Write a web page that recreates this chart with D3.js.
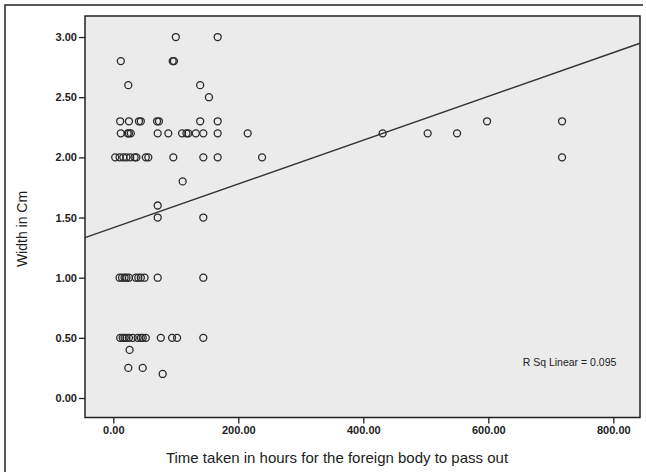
<!DOCTYPE html>
<html>
<head>
<meta charset="utf-8">
<script src="https://cdn.jsdelivr.net/npm/d3@7"></script>
<style>
  html, body { margin: 0; padding: 0; background: #fff; }
  #chart { width: 646px; height: 472px; }
  text { font-family: "Liberation Sans", Arial, sans-serif; fill: #222; }
</style>
</head>
<body>
<div id="chart"></div>
<script>
// hours taken (x) and width in cm (y), one row per y level
const hours = [
  100, 167,
  12, 95, 97,
  24, 139,
  153,
  11, 25, 41, 44, 70, 73, 139, 167, 598, 718,
  12, 23, 25, 28, 71, 88, 110, 117, 120, 132, 144, 167, 215, 431, 503, 550,
  3, 10, 16, 21, 27, 34, 37, 52, 56, 96, 144, 167, 238, 718,
  111,
  71,
  71, 144,
  10, 14, 18, 21, 25, 36, 40, 44, 50, 71, 144,
  11, 15, 18, 21, 25, 31, 39, 44, 47, 52, 76, 94, 102, 144,
  26,
  24, 47,
  79
];
const widths = [
  3.0, 3.0,
  2.8, 2.8, 2.8,
  2.6, 2.6,
  2.5,
  2.3, 2.3, 2.3, 2.3, 2.3, 2.3, 2.3, 2.3, 2.3, 2.3,
  2.2, 2.2, 2.2, 2.2, 2.2, 2.2, 2.2, 2.2, 2.2, 2.2, 2.2, 2.2, 2.2, 2.2, 2.2, 2.2,
  2.0, 2.0, 2.0, 2.0, 2.0, 2.0, 2.0, 2.0, 2.0, 2.0, 2.0, 2.0, 2.0, 2.0,
  1.8,
  1.6,
  1.5, 1.5,
  1.0, 1.0, 1.0, 1.0, 1.0, 1.0, 1.0, 1.0, 1.0, 1.0, 1.0,
  0.5, 0.5, 0.5, 0.5, 0.5, 0.5, 0.5, 0.5, 0.5, 0.5, 0.5, 0.5, 0.5, 0.5,
  0.4,
  0.25, 0.25,
  0.2
];
const xTicks = [0, 200, 400, 600, 800];
const yTicks = [0, 0.5, 1.0, 1.5, 2.0, 2.5, 3.0];
// fit line: [intercept, slope]
const fitLine = [1.415, 0.00182];
const rSqLabel = "R Sq Linear = 0.095";

document.addEventListener("DOMContentLoaded", function () {
    const width = 646;
    const height = 472;
    const plot = { left: 85, right: 640, top: 16, bottom: 417.5 };

    const svg = d3.select("#chart")
        .append("svg")
        .attr("width", width)
        .attr("height", height);

    // outer border (cut off on the right and at the bottom)
    svg.append("path")
        .attr("d", `M5,${height} V5 H643`)
        .attr("fill", "none")
        .attr("stroke", "#222")
        .attr("stroke-width", 1.5);

    const x = d3.scaleLinear().domain([-45.3, 842.7]).range([plot.left, plot.right]);
    const y = d3.scaleLinear().domain([-0.162, 3.175]).range([plot.bottom, plot.top]);

    svg.append("rect")
        .attr("x", plot.left)
        .attr("y", plot.top)
        .attr("width", plot.right - plot.left)
        .attr("height", plot.bottom - plot.top)
        .attr("fill", "#ebebeb");

    const fmt = d3.format(".2f");

    const xAxis = svg.append("g")
        .attr("transform", `translate(0,${plot.bottom})`)
        .call(d3.axisBottom(x).tickValues(xTicks).tickFormat(fmt).tickSize(6).tickPadding(3));

    const yAxis = svg.append("g")
        .attr("transform", `translate(${plot.left},0)`)
        .call(d3.axisLeft(y).tickValues(yTicks).tickFormat(fmt).tickSize(6).tickPadding(2));

    [xAxis, yAxis].forEach(g => {
        g.select(".domain").remove();
        g.selectAll(".tick line").attr("stroke", "#222").attr("stroke-width", 1.3);
        g.selectAll(".tick text")
            .attr("font-family", "Liberation Sans, Arial, sans-serif")
            .attr("font-size", 11)
            .attr("font-weight", "bold")
            .attr("fill", "#444");
    });

    // plot frame on top of the axes
    svg.append("rect")
        .attr("x", plot.left)
        .attr("y", plot.top)
        .attr("width", plot.right - plot.left)
        .attr("height", plot.bottom - plot.top)
        .attr("fill", "none")
        .attr("stroke", "#222")
        .attr("stroke-width", 1.5);

    const points = hours.map((h, i) => ({ h: h, w: widths[i] }));

    svg.selectAll(".pt")
        .data(points)
        .enter()
        .append("circle")
        .attr("class", "pt")
        .attr("cx", d => x(d.h))
        .attr("cy", d => y(d.w))
        .attr("r", 3.5)
        .attr("fill", "none")
        .attr("stroke", "#2a2a2a")
        .attr("stroke-width", 1.3);

    // fit line across the full x range
    const x0 = x.domain()[0], x1 = x.domain()[1];
    svg.append("line")
        .attr("x1", x(x0))
        .attr("y1", y(fitLine[0] + fitLine[1] * x0))
        .attr("x2", x(x1))
        .attr("y2", y(fitLine[0] + fitLine[1] * x1))
        .attr("stroke", "#333")
        .attr("stroke-width", 1.4);

    svg.append("text")
        .attr("x", 569.5)
        .attr("y", 366)
        .attr("text-anchor", "middle")
        .attr("font-size", 10.5)
        .attr("fill", "#333")
        .text(rSqLabel);

    svg.append("text")
        .attr("x", 337)
        .attr("y", 463)
        .attr("text-anchor", "middle")
        .attr("font-size", 15)
        .text("Time taken in hours for the foreign body to pass out");

    svg.append("text")
        .attr("transform", "translate(27,229) rotate(-90)")
        .attr("text-anchor", "middle")
        .attr("font-size", 14)
        .text("Width in Cm");
});
</script>
</body>
</html>
